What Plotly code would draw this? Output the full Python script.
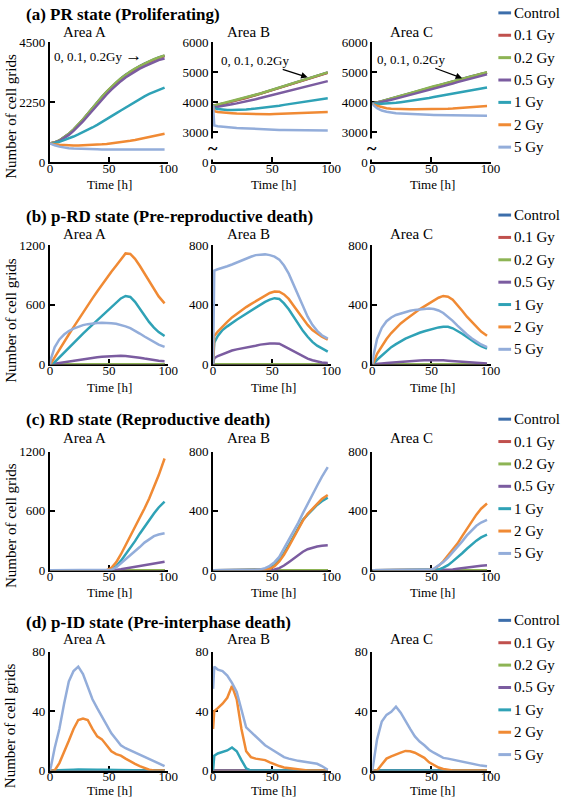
import plotly.graph_objects as go

# ---------------- data ----------------
TIME = [0, 1, 4, 8, 12, 16, 20, 24, 28, 32, 36, 40, 44, 48, 52, 56, 60, 64, 68, 72, 76, 80, 84, 88, 92, 97]
DOSE_LABELS = ["Control", "0.1 Gy", "0.2 Gy", "0.5 Gy", "1 Gy", "2 Gy", "5 Gy"]
ROW_TITLES = ["(a) PR state (Proliferating)", "(b) p-RD state (Pre-reproductive death)",
              "(c) RD state (Reproductive death)", "(d) p-ID state (Pre-interphase death)"]
AREA_LABELS = ["Area A", "Area B", "Area C"]

ZERO = [0, 0, 0, 0, 0, 0, 0, 0, 0, 0, 0, 0, 0, 0, 0, 0, 0, 0, 0, 0, 0, 0, 0, 0, 0, 0]

# (a) PR state
PR_A_CTRL = [700, 705, 740, 810, 920, 1060, 1220, 1400, 1600, 1810, 2030, 2250, 2450, 2640, 2820, 2990, 3140, 3280, 3400, 3510, 3610, 3700, 3780, 3860, 3930, 4000]
PR_A_01 = [700, 705, 740, 805, 915, 1050, 1210, 1390, 1590, 1800, 2015, 2235, 2435, 2625, 2805, 2975, 3125, 3265, 3385, 3495, 3595, 3685, 3765, 3845, 3915, 3985]
PR_A_02 = [700, 706, 742, 812, 925, 1065, 1225, 1405, 1605, 1815, 2035, 2255, 2455, 2645, 2825, 2995, 3145, 3285, 3405, 3515, 3615, 3705, 3785, 3865, 3935, 4010]
PR_A_05 = [700, 702, 730, 790, 890, 1020, 1170, 1340, 1530, 1730, 1940, 2150, 2350, 2540, 2720, 2890, 3040, 3180, 3300, 3410, 3510, 3600, 3680, 3760, 3830, 3890]
PR_A_1 = [700, 700, 720, 760, 820, 890, 960, 1040, 1120, 1210, 1300, 1400, 1500, 1610, 1720, 1830, 1940, 2050, 2160, 2270, 2370, 2470, 2560, 2640, 2720, 2800]
PR_A_2 = [700, 690, 670, 650, 635, 625, 620, 620, 625, 630, 640, 650, 665, 680, 700, 720, 745, 770, 800, 830, 865, 900, 940, 980, 1020, 1065]
PR_A_5 = [700, 680, 630, 580, 545, 520, 505, 495, 488, 483, 480, 478, 476, 475, 474, 473, 473, 472, 472, 471, 471, 471, 470, 470, 470, 470]

PR_B_CTRL = [3880, 3885, 3905, 3945, 3985, 4025, 4065, 4105, 4145, 4195, 4235, 4285, 4335, 4385, 4435, 4485, 4535, 4585, 4635, 4685, 4735, 4785, 4835, 4885, 4935, 4990]
PR_B_01 = [3880, 3885, 3905, 3945, 3985, 4020, 4060, 4100, 4140, 4190, 4230, 4280, 4330, 4380, 4430, 4480, 4530, 4580, 4630, 4680, 4730, 4780, 4830, 4880, 4930, 4985]
PR_B_02 = [3880, 3890, 3910, 3950, 3990, 4030, 4070, 4110, 4150, 4200, 4240, 4290, 4340, 4390, 4440, 4490, 4540, 4590, 4640, 4690, 4740, 4790, 4840, 4890, 4940, 4995]
PR_B_05 = [3850, 3840, 3850, 3870, 3900, 3930, 3960, 3990, 4030, 4060, 4100, 4140, 4180, 4220, 4260, 4300, 4340, 4380, 4420, 4460, 4500, 4540, 4580, 4620, 4660, 4705]
PR_B_1 = [3850, 3800, 3770, 3750, 3740, 3740, 3740, 3745, 3755, 3770, 3785, 3800, 3820, 3840, 3860, 3885, 3910, 3935, 3960, 3985, 4010, 4035, 4060, 4085, 4105, 4130]
PR_B_2 = [3850, 3700, 3670, 3650, 3640, 3630, 3620, 3615, 3610, 3605, 3600, 3600, 3600, 3600, 3605, 3610, 3615, 3620, 3625, 3630, 3635, 3640, 3650, 3655, 3660, 3670]
PR_B_5 = [3900, 3220, 3200, 3180, 3165, 3150, 3140, 3130, 3120, 3110, 3100, 3095, 3090, 3085, 3080, 3075, 3070, 3068, 3066, 3064, 3062, 3060, 3058, 3056, 3055, 3055]

PR_C_CTRL = [3960, 3965, 3990, 4030, 4075, 4115, 4165, 4205, 4255, 4295, 4345, 4385, 4435, 4475, 4525, 4565, 4605, 4655, 4695, 4745, 4785, 4825, 4865, 4905, 4945, 4990]
PR_C_01 = [3960, 3962, 3988, 4028, 4072, 4112, 4162, 4202, 4252, 4292, 4342, 4382, 4432, 4472, 4522, 4562, 4602, 4652, 4692, 4742, 4782, 4822, 4862, 4902, 4942, 4988]
PR_C_02 = [3960, 3965, 3990, 4030, 4080, 4120, 4170, 4210, 4260, 4300, 4350, 4390, 4440, 4480, 4530, 4570, 4610, 4660, 4700, 4750, 4790, 4830, 4870, 4910, 4950, 5000]
PR_C_05 = [3960, 3955, 3970, 4000, 4040, 4080, 4120, 4160, 4200, 4240, 4280, 4320, 4370, 4410, 4450, 4490, 4540, 4580, 4620, 4670, 4710, 4750, 4800, 4840, 4880, 4930]
PR_C_1 = [3960, 3955, 3950, 3950, 3955, 3965, 3980, 4000, 4020, 4040, 4065, 4090, 4115, 4140, 4170, 4200, 4225, 4255, 4285, 4315, 4345, 4375, 4405, 4435, 4460, 4490]
PR_C_2 = [3960, 3930, 3880, 3830, 3800, 3785, 3775, 3770, 3768, 3766, 3765, 3765, 3766, 3768, 3770, 3775, 3780, 3785, 3792, 3800, 3810, 3820, 3832, 3845, 3858, 3875]
PR_C_5 = [3960, 3900, 3800, 3720, 3680, 3650, 3630, 3620, 3610, 3600, 3595, 3590, 3585, 3580, 3575, 3572, 3570, 3568, 3565, 3562, 3560, 3558, 3555, 3552, 3550, 3548]

# (b) p-RD state
PRD_A_05 = [0, 0, 5, 12, 20, 28, 36, 44, 52, 58, 64, 70, 75, 79, 82, 84, 85, 84, 80, 74, 66, 57, 48, 40, 34, 30]
PRD_A_1 = [0, 0, 20, 70, 120, 170, 220, 265, 310, 355, 400, 445, 490, 535, 580, 625, 665, 690, 680, 630, 560, 490, 425, 370, 325, 285]
PRD_A_2 = [0, 10, 70, 150, 225, 300, 375, 450, 520, 595, 665, 735, 805, 870, 935, 995, 1060, 1120, 1115, 1065, 995, 915, 835, 755, 685, 615]
PRD_A_5 = [0, 60, 170, 250, 300, 335, 360, 380, 395, 405, 412, 416, 418, 418, 415, 408, 398, 383, 365, 340, 310, 280, 250, 222, 198, 175]

PRD_B_05 = [0, 40, 55, 68, 80, 92, 100, 105, 110, 118, 125, 132, 137, 140, 140, 138, 122, 105, 88, 70, 52, 38, 27, 18, 12, 8]
PRD_B_1 = [0, 145, 190, 230, 255, 280, 300, 320, 340, 365, 385, 405, 420, 435, 445, 440, 410, 370, 320, 270, 225, 185, 150, 125, 105, 85]
PRD_B_2 = [0, 190, 220, 255, 285, 315, 340, 365, 385, 405, 425, 445, 465, 480, 490, 488, 470, 440, 395, 350, 305, 265, 230, 205, 185, 165]
PRD_B_5 = [0, 630, 640, 648, 660, 672, 686, 700, 712, 724, 735, 740, 740, 735, 725, 705, 665, 610, 540, 460, 390, 320, 265, 225, 195, 172]

PRD_C_05 = [0, 0, 2, 5, 8, 11, 14, 17, 19, 21, 23, 25, 26, 27, 27, 27, 26, 24, 22, 19, 16, 13, 10, 8, 6, 5]
PRD_C_1 = [0, 5, 30, 60, 90, 115, 135, 155, 172, 186, 200, 212, 222, 232, 240, 248, 253, 252, 242, 225, 205, 183, 160, 140, 122, 105]
PRD_C_2 = [0, 10, 70, 125, 170, 210, 245, 275, 300, 325, 350, 370, 390, 410, 430, 448, 460, 455, 435, 400, 360, 320, 285, 250, 220, 192]
PRD_C_5 = [0, 60, 170, 245, 290, 315, 332, 343, 352, 360, 366, 370, 373, 375, 372, 362, 345, 320, 292, 260, 228, 200, 175, 152, 133, 115]

# (c) RD state
RD_A_05 = [0, 0, 0, 0, 0, 0, 0, 0, 0, 0, 0, 0, 0, 0, 0, 3, 10, 18, 27, 36, 45, 55, 63, 72, 79, 86]
RD_A_1 = [0, 0, 0, 0, 0, 0, 0, 0, 0, 0, 0, 0, 0, 0, 8, 40, 95, 160, 225, 295, 370, 440, 510, 575, 635, 695]
RD_A_2 = [0, 0, 0, 0, 0, 0, 0, 0, 0, 0, 0, 0, 0, 2, 25, 80, 160, 250, 345, 440, 535, 625, 725, 835, 960, 1130]
RD_A_5 = [0, 0, 0, 0, 0, 0, 0, 0, 0, 0, 0, 0, 0, 0, 5, 30, 70, 110, 150, 190, 235, 280, 315, 345, 362, 375]

RD_B_05 = [0, 0, 0, 0, 0, 0, 0, 0, 0, 0, 0, 0, 0, 0, 5, 15, 32, 55, 80, 105, 125, 142, 153, 160, 165, 168]
RD_B_1 = [0, 0, 0, 0, 0, 0, 0, 0, 0, 0, 0, 0, 5, 15, 35, 70, 115, 170, 230, 290, 340, 375, 410, 440, 465, 490]
RD_B_2 = [0, 0, 0, 0, 0, 0, 0, 0, 0, 0, 0, 0, 3, 10, 28, 60, 105, 160, 220, 280, 335, 380, 415, 450, 480, 508]
RD_B_5 = [0, 0, 0, 0, 0, 0, 0, 0, 0, 0, 2, 6, 15, 30, 55, 90, 145, 200, 260, 320, 385, 450, 510, 570, 630, 695]

RD_C_05 = [0, 0, 0, 0, 0, 0, 0, 0, 0, 0, 0, 0, 0, 0, 0, 0, 0, 0, 5, 10, 15, 20, 24, 28, 31, 34]
RD_C_1 = [0, 0, 0, 0, 0, 0, 0, 0, 0, 0, 0, 0, 0, 0, 0, 5, 18, 35, 60, 85, 115, 145, 175, 200, 222, 240]
RD_C_2 = [0, 0, 0, 0, 0, 0, 0, 0, 0, 0, 0, 0, 0, 3, 8, 30, 60, 100, 140, 180, 230, 280, 330, 375, 415, 450]
RD_C_5 = [0, 0, 0, 0, 0, 0, 0, 0, 0, 0, 0, 0, 0, 3, 10, 30, 55, 85, 120, 155, 195, 235, 270, 300, 322, 340]

# (d) p-ID state
PID_A_1 = [0, 0, 0, 0, 0.3, 0.5, 0.5, 0.6, 0.7, 0.7, 0.6, 0.5, 0.5, 0.4, 0.3, 0.2, 0.1, 0, 0, 0, 0, 0, 0, 0, 0, 0]
PID_A_2 = [0, 0, 0, 5, 12, 20, 28, 34, 35, 34, 28, 23, 21, 17, 13, 11, 10, 8, 6, 4.5, 3, 1.5, 0.5, 0, 0, 0]
PID_A_5 = [0, 3, 15, 28, 45, 60, 67, 70, 65, 56, 48, 42, 36, 31, 25, 21, 17, 15, 13.5, 12.5, 10.5, 9, 7.5, 6, 4.5, 3]

PID_B_1 = [0, 10, 11.5, 12.5, 13.5, 15.5, 13, 7, 1.5, 0, 0, 0, 0, 0, 0, 0, 0, 0, 0, 0, 0, 0, 0, 0, 0, 0]
PID_B_2 = [28, 40, 42, 45, 49, 57, 48, 28, 13, 9, 8, 7.5, 7, 5.5, 4, 3, 2, 1.5, 1, 0.5, 0.2, 0, 0, 0, 0, 0]
PID_B_5 = [55, 70, 68, 67, 64, 59, 53, 40, 29, 26, 23, 20, 17, 15, 13, 11, 9, 8, 7, 6.5, 6, 5.5, 5, 4.5, 3, 0.5]

PID_C_2 = [0, 0, 0, 4, 8, 9.5, 11, 12, 13.2, 13, 12, 10.5, 8.5, 5.5, 3.5, 2, 1, 0.4, 0, 0, 0, 0, 0, 0, 0, 0]
PID_C_5 = [0, 5, 21, 33, 37.5, 39.5, 43, 39, 33, 28, 23, 19.5, 17, 14, 12, 10, 8.5, 8, 7.3, 6.5, 6, 5, 4.5, 4, 3.3, 2.8]

PANELS = [
    [[PR_A_CTRL, PR_A_01, PR_A_02, PR_A_05, PR_A_1, PR_A_2, PR_A_5],
     [PR_B_CTRL, PR_B_01, PR_B_02, PR_B_05, PR_B_1, PR_B_2, PR_B_5],
     [PR_C_CTRL, PR_C_01, PR_C_02, PR_C_05, PR_C_1, PR_C_2, PR_C_5]],
    [[ZERO, ZERO, ZERO, PRD_A_05, PRD_A_1, PRD_A_2, PRD_A_5],
     [ZERO, ZERO, ZERO, PRD_B_05, PRD_B_1, PRD_B_2, PRD_B_5],
     [ZERO, ZERO, ZERO, PRD_C_05, PRD_C_1, PRD_C_2, PRD_C_5]],
    [[ZERO, ZERO, ZERO, RD_A_05, RD_A_1, RD_A_2, RD_A_5],
     [ZERO, ZERO, ZERO, RD_B_05, RD_B_1, RD_B_2, RD_B_5],
     [ZERO, ZERO, ZERO, RD_C_05, RD_C_1, RD_C_2, RD_C_5]],
    [[ZERO, ZERO, ZERO, ZERO, PID_A_1, PID_A_2, PID_A_5],
     [ZERO, ZERO, ZERO, ZERO, PID_B_1, PID_B_2, PID_B_5],
     [ZERO, ZERO, ZERO, ZERO, ZERO, PID_C_2, PID_C_5]],
]

Y_RANGES = [[[0, 4500], [2000, 6000], [2000, 6000]],
            [[0, 1200], [0, 800], [0, 800]],
            [[0, 1200], [0, 800], [0, 800]],
            [[0, 80], [0, 80], [0, 80]]]
Y_TICKVALS = [[[0, 2250, 4500], [2000, 3000, 4000, 5000, 6000], [2000, 3000, 4000, 5000, 6000]],
              [[0, 600, 1200], [0, 400, 800], [0, 400, 800]],
              [[0, 600, 1200], [0, 400, 800], [0, 400, 800]],
              [[0, 40, 80], [0, 40, 80], [0, 40, 80]]]
Y_TICKTEXT = [[["0", "2250", "4500"], ["0", "3000", "4000", "5000", "6000"], ["0", "3000", "4000", "5000", "6000"]],
              [["0", "600", "1200"], ["0", "400", "800"], ["0", "400", "800"]],
              [["0", "600", "1200"], ["0", "400", "800"], ["0", "400", "800"]],
              [["0", "40", "80"], ["0", "40", "80"], ["0", "40", "80"]]]
X_TICKS = [0, 50, 100]

# ---------------- style / layout ----------------
W, H = 567, 805
FONT = "Liberation Serif, Times New Roman, Times, serif"
COLORS = ["#3C6EAB", "#C0504D", "#8DB454", "#7B5CA0", "#2FA2B6", "#F08A34", "#93ADDA"]
COLS = [(48, 169), (215, 336), (378, 499)]
ROWS = [(36, 158), (243, 364), (453, 574), (657, 778)]
TITLE_Y = [8, 213, 420, 627]
AREA_Y = [25, 231, 439, 644]
AREA_X = [83, 251, 418]
XTITLE_X = [109, 277, 440]
XTITLE_Y = [181, 388, 597, 798]
YTITLE_Y = [111, 319, 528, 732]
LEGEND_Y0 = [6, 212, 420, 625]
LEGEND_STEP = 22.8


def fx(p):
    return p / W


def fy(p):
    return 1 - p / H


fig = go.Figure()
layout = dict(width=W, height=H, margin=dict(l=0, r=0, t=0, b=0),
              paper_bgcolor="white", plot_bgcolor="white",
              font=dict(family=FONT, color="black"), showlegend=False)
annotations = []
shapes = []

axis_common = dict(showline=True, linecolor="black", linewidth=2, ticks="inside", ticklen=5,
                   tickwidth=2, tickcolor="black", showgrid=False, zeroline=False,
                   tickfont=dict(family=FONT, size=13, color="black"), layer="below traces",
                   fixedrange=True)

k = 0
for r in range(4):
    for c in range(3):
        k += 1
        xs = "x" if k == 1 else f"x{k}"
        ys = "y" if k == 1 else f"y{k}"
        xa = "xaxis" if k == 1 else f"xaxis{k}"
        ya = "yaxis" if k == 1 else f"yaxis{k}"
        layout[xa] = dict(axis_common, domain=[fx(COLS[c][0]), fx(COLS[c][1])], range=[0, 100],
                          tickvals=X_TICKS, anchor=ys, ticklabelstandoff=-7)
        layout[ya] = dict(axis_common, domain=[fy(ROWS[r][1]), fy(ROWS[r][0])], range=Y_RANGES[r][c],
                          tickvals=Y_TICKVALS[r][c], ticktext=Y_TICKTEXT[r][c], anchor=xs)
        for i, series in enumerate(PANELS[r][c]):
            fig.add_trace(go.Scatter(x=TIME, y=series, mode="lines", name=DOSE_LABELS[i],
                                     line=dict(color=COLORS[i], width=2.5),
                                     xaxis=xs, yaxis=ys, cliponaxis=False, showlegend=False))
        annotations.append(dict(text=AREA_LABELS[c], xref="paper", yref="paper",
                                x=fx(AREA_X[c]), y=fy(AREA_Y[r]), xanchor="center", yanchor="middle",
                                showarrow=False, font=dict(family=FONT, size=15)))
        annotations.append(dict(text="Time [h]", xref="paper", yref="paper",
                                x=fx(XTITLE_X[c]), y=fy(XTITLE_Y[r]), xanchor="center", yanchor="middle",
                                showarrow=False, font=dict(family=FONT, size=13)))
    annotations.append(dict(text=f"<b>{ROW_TITLES[r]}</b>", xref="paper", yref="paper",
                            x=fx(21), y=fy(TITLE_Y[r]), xanchor="left", yanchor="middle",
                            showarrow=False, font=dict(family=FONT, size=17)))
    annotations.append(dict(text="Number of cell grids", xref="paper", yref="paper", textangle=-90,
                            x=fx(8), y=fy(YTITLE_Y[r]), xanchor="center", yanchor="middle",
                            showarrow=False, font=dict(family=FONT, size=15)))
    # legend for the row
    for i, lab in enumerate(DOSE_LABELS):
        yy = fy(LEGEND_Y0[r] + i * LEGEND_STEP)
        shapes.append(dict(type="line", xref="paper", yref="paper", x0=fx(507), x1=fx(520), y0=yy, y1=yy,
                           line=dict(color=COLORS[i], width=3)))
        annotations.append(dict(text=lab, xref="paper", yref="paper", x=fx(521), y=yy,
                                xanchor="left", yanchor="middle", showarrow=False,
                                font=dict(family=FONT, size=15)))

# axis breaks on Area B / C of row (a)
for ys, xs in (("y2", "x2"), ("y3", "x3")):
    annotations.append(dict(text="<b>~</b>", xref=xs, yref=ys, x=0, y=2450, showarrow=False,
                            font=dict(family=FONT, size=18), bgcolor="white", borderpad=0,
                            xanchor="center", yanchor="middle"))

# dose notes in row (a)
annotations.append(dict(text="0, 0.1, 0.2Gy <span style='font-size:17px'>\u2192</span>", xref="x", yref="y",
                        x=41, y=3990, showarrow=False,
                        font=dict(family=FONT, size=13), xanchor="center", yanchor="middle"))
annotations.append(dict(text="0, 0.1, 0.2Gy", xref="x2", yref="y2", x=80, y=4830, ax=-53, ay=-17,
                        showarrow=True, arrowhead=2, arrowsize=1, arrowwidth=1.3, arrowcolor="black",
                        font=dict(family=FONT, size=13)))
annotations.append(dict(text="0, 0.1, 0.2Gy", xref="x3", yref="y3", x=76, y=4800, ax=-51, ay=-19,
                        showarrow=True, arrowhead=2, arrowsize=1, arrowwidth=1.3, arrowcolor="black",
                        font=dict(family=FONT, size=13)))

layout["annotations"] = annotations
layout["shapes"] = shapes
fig.update_layout(**layout)
fig.write_html("out.html", config={"displayModeBar": False},
               post_script="document.body.style.margin='0px';document.body.style.overflow='hidden';")
